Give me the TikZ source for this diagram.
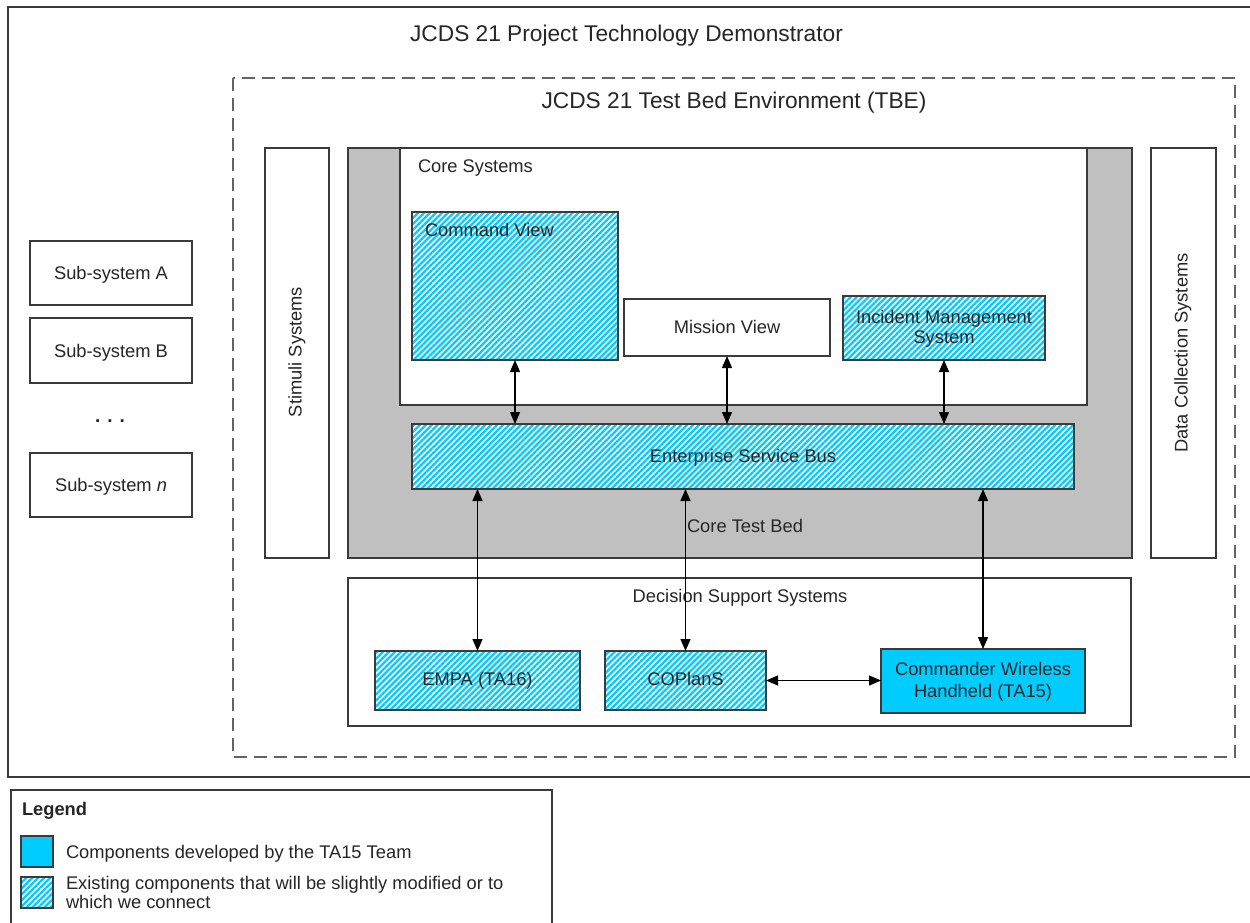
\documentclass[tikz,border=0pt]{standalone}
\usepackage{fontspec}
\setmainfont{Liberation Sans}
\usetikzlibrary{arrows.meta,patterns.meta,fit}

\definecolor{cyanfill}{RGB}{0,204,255}
\definecolor{edge}{RGB}{58,58,58}
\definecolor{ink}{RGB}{38,38,38}
\definecolor{bedgray}{RGB}{192,192,192}
\definecolor{dashgray}{RGB}{100,100,100}

\begin{document}
\begin{tikzpicture}[x=1pt,y=-1pt,
  every node/.style={font=\fontsize{18.3}{20}\selectfont, text=ink, inner sep=0pt, outer sep=0pt},
  frame/.style={draw=edge, line width=2pt, fill=white},
  tbe/.style={draw=dashgray, line width=2.5pt, dash pattern=on 13pt off 7pt},
  box/.style={draw=edge, line width=1.5pt, fill=white},
  bed/.style={draw=edge, line width=1.5pt, fill=bedgray},
  hatched/.style={draw=edge, line width=1.5pt, preaction={fill=white},
    pattern={Lines[angle=45,distance=4.2pt,line width=2.3pt]}, pattern color=cyanfill},
  solid/.style={draw=edge, line width=1.5pt, fill=cyanfill},
  heading/.style={font=\fontsize{22.7}{26}\selectfont},
  link/.style={line width=1.3pt, draw=black,
    {Triangle[length=12pt,width=10pt]}-{Triangle[length=12pt,width=10pt]}},
]
\useasboundingbox (0,0) rectangle (1250,922);
\fill[white] (0,0) rectangle (1250,922);

% overall demonstrator frame (its right edge runs off the page)
\node[frame, fit={(8,7) (1256,777)}] (demo) {};
\node[heading, anchor=base] at (626.5,41) {JCDS 21 Project Technology Demonstrator};

% sub-systems on the left
\node[box, fit={(30,241) (192,305)}] (subA) {};
\node[anchor=base] at (subA.center |- 0,279) {Sub-system A};
\node[box, fit={(30,318) (192,383)}] (subB) {};
\node[anchor=base] at (subB.center |- 0,357) {Sub-system B};
\node[font=\bfseries\fontsize{19}{20}\selectfont] (dots) at (110,421) {. . .};
\node[box, fit={(30,453) (192,517)}] (subN) {};
\node[anchor=base] at (subN.center |- 0,491) {Sub-system \textit{n}};

% test bed environment
\draw[tbe] (233,78) rectangle (1235,757);
\node[heading, anchor=base] at (734,108) {JCDS 21 Test Bed Environment (TBE)};

\node[box, fit={(265,148) (329,558)}] (stim) {};
\node[rotate=90] at (297,352) {Stimuli Systems};
\node[box, fit={(1151,148) (1216,558)}] (dcs) {};
\node[rotate=90] at (1183,353) {Data Collection Systems};

% core test bed
\node[bed, fit={(348,148) (1132,558)}] (bed) {};
\node[anchor=base] at (745,532) {Core Test Bed};

\node[box, fit={(400,148) (1087,405)}] (core) {};
\node[anchor=base west] at (418,172) {Core Systems};

\node[hatched, fit={(412,212) (618,360)}] (cmd) {};
\node[anchor=base west] at (425,236) {Command View};
\node[box, fit={(624,299) (830,356)}] (mv) {};
\node[anchor=base] at (mv.center |- 0,333) {Mission View};
\node[hatched, fit={(843,296) (1045,360)}] (ims) {};
\node[anchor=base] at (ims.center |- 0,323) {Incident Management};
\node[anchor=base] at (ims.center |- 0,343) {System};

\node[hatched, fit={(412,424) (1074,489)}] (esb) {};
\node[anchor=base] at (esb.center |- 0,462) {Enterprise Service Bus};

% decision support systems
\node[box, fit={(348,578) (1131,726)}] (dss) {};
\node[anchor=base] at (740,602) {Decision Support Systems};

\node[hatched, fit={(375,651) (580,710)}] (empa) {};
\node[anchor=base] at (empa.center |- 0,685) {EMPA (TA16)};
\node[hatched, fit={(605,651) (766,710)}] (cop) {};
\node[anchor=base] at (cop.center |- 0,685) {COPlanS};
\node[solid, fit={(881,649) (1085,713)}] (cwh) {};
\node[anchor=base] at (cwh.center |- 0,675) {Commander Wireless};
\node[anchor=base] at (cwh.center |- 0,697) {Handheld (TA15)};

% connections
\draw[link] (cmd.south) -- (cmd.south |- esb.north);
\draw[link] (mv.south) -- (mv.south |- esb.north);
\draw[link] (ims.south) -- (ims.south |- esb.north);
\draw[link] (empa.north |- esb.south) -- (empa.north);
\draw[link] (cop.north |- esb.south) -- (cop.north);
\draw[link] (cwh.north |- esb.south) -- (cwh.north);
\draw[link] (cop.east) -- (cop.east -| cwh.west);

% legend (its lower edge runs off the page)
\node[box, fit={(11,790) (552,940)}] (legend) {};
\node[anchor=base west, font=\bfseries\fontsize{18.3}{20}\selectfont] at (22,815) {Legend};
\node[solid, fit={(21,836) (53,867)}] (keysolid) {};
\node[anchor=base west] at (66,858) {Components developed by the TA15 Team};
\node[hatched, fit={(21,877) (53,908)}] (keyhatch) {};
\node[anchor=base west] at (66,889) {Existing components that will be slightly modified or to};
\node[anchor=base west] at (66,908) {which we connect};
\end{tikzpicture}
\end{document}
